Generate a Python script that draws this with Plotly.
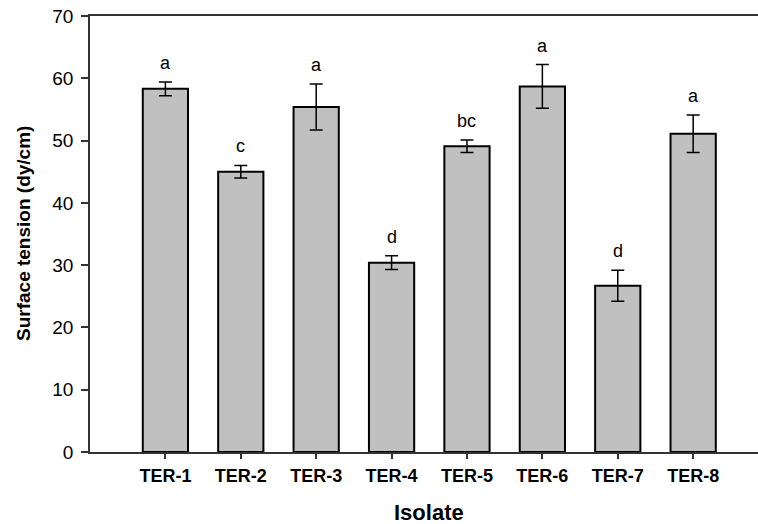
import plotly.graph_objects as go

isolates = ["TER-1", "TER-2", "TER-3", "TER-4", "TER-5", "TER-6", "TER-7", "TER-8"]
tension = [58.3, 45.0, 55.4, 30.4, 49.1, 58.7, 26.7, 51.1]
errors = [1.1, 1.0, 3.7, 1.1, 1.0, 3.5, 2.5, 3.0]
letters = ["a", "c", "a", "d", "bc", "a", "d", "a"]

FONT = "Liberation Sans, Arial, sans-serif"

fig = go.Figure()
fig.add_trace(go.Bar(
    x=list(range(len(isolates))), y=tension,
    width=0.6,
    marker=dict(color="#c0c0c0", line=dict(color="#000000", width=2)),
    error_y=dict(type="data", array=errors, visible=True, color="#000000",
                 thickness=1.5, width=6.5),
))

for i, (v, e, lab) in enumerate(zip(tension, errors, letters)):
    fig.add_annotation(x=i, y=v + e, text=lab, showarrow=False,
                       yanchor="bottom", yshift=7,
                       font=dict(family=FONT, size=18, color="#000000"))

fig.add_annotation(x=3.5, xref="x", y=0, yref="paper", yshift=-60,
                   text="<b>Isolate</b>", showarrow=False, yanchor="middle",
                   font=dict(family=FONT, size=22, color="#000000"))
fig.add_annotation(x=0, xref="paper", xshift=-67, y=0.5, yref="paper",
                   text="<b>Surface tension (dy/cm)</b>", showarrow=False,
                   textangle=-90, xanchor="center", yanchor="middle",
                   font=dict(family=FONT, size=19, color="#000000"))

fig.update_layout(
    width=758, height=524,
    margin=dict(l=90, r=0, t=16, b=72, autoexpand=False),
    plot_bgcolor="white", paper_bgcolor="white",
    showlegend=False,
    font=dict(family=FONT, color="#000000"),
    xaxis=dict(
        range=[-1, 7.86],
        tickmode="array", tickvals=list(range(len(isolates))),
        ticktext=[f"<b>{t}</b>" for t in isolates],
        ticks="outside", ticklen=5, tickwidth=1.5, tickcolor="#333333",
        ticklabelstandoff=2,
        showline=True, linecolor="#333333", linewidth=1.5, mirror=True,
        showgrid=False, zeroline=False,
        tickfont=dict(family=FONT, size=18, color="#000000"),
    ),
    yaxis=dict(
        range=[0, 70], tickmode="linear", tick0=0, dtick=10,
        ticks="outside", ticklen=7, tickwidth=1.5, tickcolor="#333333",
        ticklabelstandoff=4,
        showline=True, linecolor="#333333", linewidth=1.5,
        showgrid=False, zeroline=False,
        tickfont=dict(family=FONT, size=19, color="#000000"),
    ),
)

fig.write_html("out.html", config={"displayModeBar": False},
               post_script="document.body.style.margin='0';")
